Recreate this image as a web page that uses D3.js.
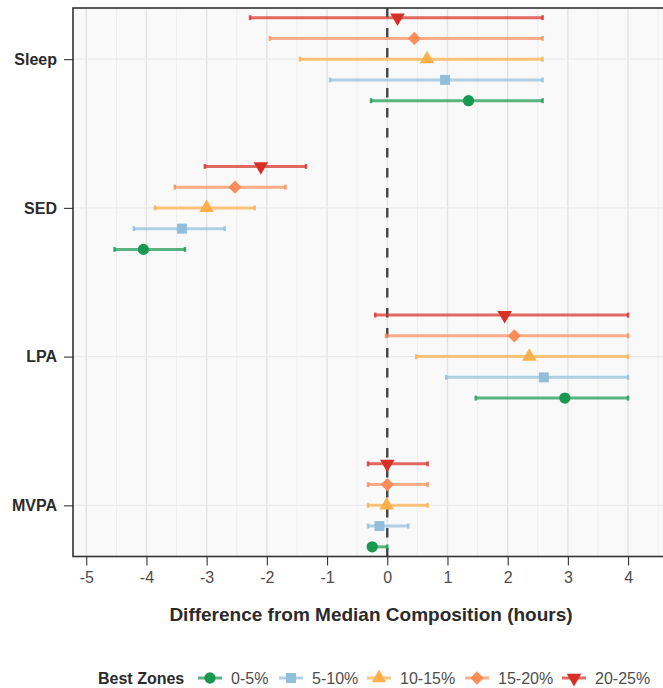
<!DOCTYPE html>
<html><head><meta charset="utf-8">
<script src="https://cdn.jsdelivr.net/npm/d3@7"></script>
<style>
body{margin:0;background:#fff}
svg{display:block}
text{font-family:"Liberation Sans",Arial,Helvetica,sans-serif}
</style>
</head><body>
<svg id="chart" width="663" height="688"></svg>
<script>
// ---------- data ----------
const categories = ["Sleep", "SED", "LPA", "MVPA"];
const zones = ["0-5%", "5-10%", "10-15%", "15-20%", "20-25%"];
const zoneColors = ["#1a9850", "#91bfdb", "#fdb04a", "#fc8d59", "#d73027"];
const zoneShapes = ["circle", "square", "triangle", "diamond", "triangleDown"];

// estimates / lower / upper per zone, in category order
const est_0_5   = [1.35, -4.05, 2.95, -0.25];
const lower_0_5 = [-0.27, -4.53, 1.47, -0.27];
const upper_0_5 = [2.58, -3.36, 4.00, 0.00];

const est_5_10   = [0.96, -3.41, 2.60, -0.13];
const lower_5_10 = [-0.95, -4.21, 0.98, -0.32];
const upper_5_10 = [2.58, -2.70, 4.00, 0.35];

const est_10_15   = [0.66, -3.00, 2.36, -0.01];
const lower_10_15 = [-1.45, -3.86, 0.48, -0.32];
const upper_10_15 = [2.58, -2.20, 4.00, 0.67];

const est_15_20   = [0.45, -2.53, 2.11, 0.00];
const lower_15_20 = [-1.95, -3.53, -0.02, -0.32];
const upper_15_20 = [2.58, -1.69, 4.00, 0.67];

const est_20_25   = [0.17, -2.10, 1.95, 0.00];
const lower_20_25 = [-2.28, -3.03, -0.20, -0.32];
const upper_20_25 = [2.58, -1.35, 4.00, 0.67];

const xTicks = [-5, -4, -3, -2, -1, 0, 1, 2, 3, 4];
const xMinorTicks = [-4.5, -3.5, -2.5, -1.5, -0.5, 0.5, 1.5, 2.5, 3.5, 4.5];
const xTitle = "Difference from Median Composition (hours)";
const legendTitle = "Best Zones";

const estimates = [est_0_5, est_5_10, est_10_15, est_15_20, est_20_25];
const lowers = [lower_0_5, lower_5_10, lower_10_15, lower_15_20, lower_20_25];
const uppers = [upper_0_5, upper_5_10, upper_10_15, upper_15_20, upper_20_25];

const rows = [];
zones.forEach((z, zi) => {
  categories.forEach((c, ci) => {
    rows.push({zone: z, zi, cat: c, est: estimates[zi][ci], lo: lowers[zi][ci], hi: uppers[zi][ci]});
  });
});

// ---------- layout ----------
const panel = {left: 73, right: 663, top: 8, bottom: 556.5};
const svg = d3.select("#chart");

const x = d3.scaleLinear().domain([-5.22, 4.58]).range([panel.left, panel.right]);
const y = d3.scalePoint().domain(categories).range([panel.top, panel.bottom]).padding(0.344);
const dodge = d3.scalePoint().domain(zones.slice().reverse()).range([-y.step() * 0.279, y.step() * 0.279]);

const colorOf = d3.scaleOrdinal().domain(zones).range(zoneColors);
const shapeOf = d3.scaleOrdinal().domain(zones).range(zoneShapes);

function symbolPath(shape) {
  switch (shape) {
    case "circle": return {d: d3.symbol(d3.symbolCircle, 100)(), rot: 0};
    case "square": return {d: d3.symbol(d3.symbolSquare, 100)(), rot: 0};
    case "triangle": return {d: d3.symbol(d3.symbolTriangle, 92)(), rot: 0};
    case "diamond": return {d: d3.symbol(d3.symbolSquare, 88)(), rot: 45};
    case "triangleDown": return {d: d3.symbol(d3.symbolTriangle, 92)(), rot: 180};
  }
}

// panel background
svg.append("rect").attr("x", panel.left).attr("y", panel.top)
  .attr("width", panel.right - panel.left + 5).attr("height", panel.bottom - panel.top)
  .attr("fill", "#f9f9f9");

const grid = svg.append("g");
grid.selectAll("line.minor").data(xMinorTicks.filter(v => x(v) > panel.left && x(v) < panel.right)).join("line")
  .attr("x1", d => x(d)).attr("x2", d => x(d)).attr("y1", panel.top).attr("y2", panel.bottom)
  .attr("stroke", "#eeeeee").attr("stroke-width", 1);
grid.selectAll("line.major").data(xTicks).join("line")
  .attr("x1", d => x(d)).attr("x2", d => x(d)).attr("y1", panel.top).attr("y2", panel.bottom)
  .attr("stroke", "#e3e3e3").attr("stroke-width", 1.4);
grid.selectAll("line.hmajor").data(categories).join("line")
  .attr("x1", panel.left).attr("x2", panel.right + 5).attr("y1", d => y(d)).attr("y2", d => y(d))
  .attr("stroke", "#ebebeb").attr("stroke-width", 1.2);

// zero reference line
svg.append("line").attr("x1", x(0)).attr("x2", x(0)).attr("y1", panel.top).attr("y2", panel.bottom)
  .attr("stroke", "#444").attr("stroke-width", 2.4).attr("stroke-dasharray", "9.5,10.5");

// error bars
const ypos = d => y(d.cat) + dodge(d.zone);
const eb = svg.append("g");
eb.selectAll("line.bar").data(rows).join("line")
  .attr("x1", d => x(d.lo)).attr("x2", d => x(d.hi))
  .attr("y1", ypos).attr("y2", ypos)
  .attr("stroke", d => colorOf(d.zone)).attr("stroke-opacity", 0.72).attr("stroke-width", 3);
const caps = [];
rows.forEach(d => { caps.push({d, v: d.lo}); caps.push({d, v: d.hi}); });
eb.selectAll("line.cap").data(caps).join("line")
  .attr("x1", c => x(c.v)).attr("x2", c => x(c.v))
  .attr("y1", c => ypos(c.d) - 2.5).attr("y2", c => ypos(c.d) + 2.5)
  .attr("stroke", c => colorOf(c.d.zone)).attr("stroke-opacity", 0.8).attr("stroke-width", 2.5);

// points
svg.append("g").selectAll("path").data(rows).join("path")
  .attr("d", d => symbolPath(shapeOf(d.zone)).d)
  .attr("transform", d => `translate(${x(d.est)},${ypos(d)}) rotate(${symbolPath(shapeOf(d.zone)).rot})`)
  .attr("fill", d => colorOf(d.zone));

// panel border
svg.append("rect").attr("x", panel.left).attr("y", panel.top)
  .attr("width", panel.right - panel.left + 5).attr("height", panel.bottom - panel.top)
  .attr("fill", "none").attr("stroke", "#333").attr("stroke-width", 1.6);

// x axis
const xAxis = d3.axisBottom(x).tickValues(xTicks).tickSize(9).tickPadding(6).tickFormat(d3.format("d"));
const gx = svg.append("g").attr("transform", `translate(0,${panel.bottom})`).call(xAxis);
gx.select(".domain").remove();
gx.selectAll(".tick line").attr("stroke", "#333").attr("stroke-width", 1.1);
gx.selectAll(".tick text").attr("font-size", 16).attr("fill", "#4d4d4d")
  .attr("font-family", "'Liberation Sans', Arial, sans-serif").text(d => d < 0 ? "-" + Math.abs(d) : d);

// y axis
const yAxis = d3.axisLeft(y).tickSize(9).tickPadding(7);
const gy = svg.append("g").attr("transform", `translate(${panel.left},0)`).call(yAxis);
gy.select(".domain").remove();
gy.selectAll(".tick line").attr("stroke", "#333").attr("stroke-width", 1.1);
gy.selectAll(".tick text").attr("font-size", 16).attr("font-weight", "bold").attr("fill", "#2b2b2b")
  .attr("font-family", "'Liberation Sans', Arial, sans-serif");

// x title
svg.append("text").attr("x", (panel.left + panel.right) / 2 + 3).attr("y", 621)
  .attr("text-anchor", "middle").attr("font-size", 19).attr("font-weight", "bold").attr("fill", "#2b2b2b")
  .text(xTitle);

// legend
const lg = svg.append("g").attr("transform", "translate(0,678)");
lg.append("text").attr("x", 98).attr("y", 6).attr("font-size", 16).attr("font-weight", "bold")
  .attr("fill", "#2b2b2b").text(legendTitle);
const keyX = [198, 279, 367, 465, 562];
zones.forEach((z, i) => {
  const g = lg.append("g").attr("transform", `translate(${keyX[i]},0)`);
  g.append("line").attr("x1", 0).attr("x2", 24).attr("y1", 0).attr("y2", 0)
    .attr("stroke", colorOf(z)).attr("stroke-opacity", 0.72).attr("stroke-width", 3);
  const s = symbolPath(shapeOf(z));
  g.append("path").attr("d", s.d).attr("transform", `translate(12,0) rotate(${s.rot})`).attr("fill", colorOf(z));
  g.append("text").attr("x", 33).attr("y", 6).attr("font-size", 16).attr("fill", "#4d4d4d").text(z);
});
</script>
</body></html>
